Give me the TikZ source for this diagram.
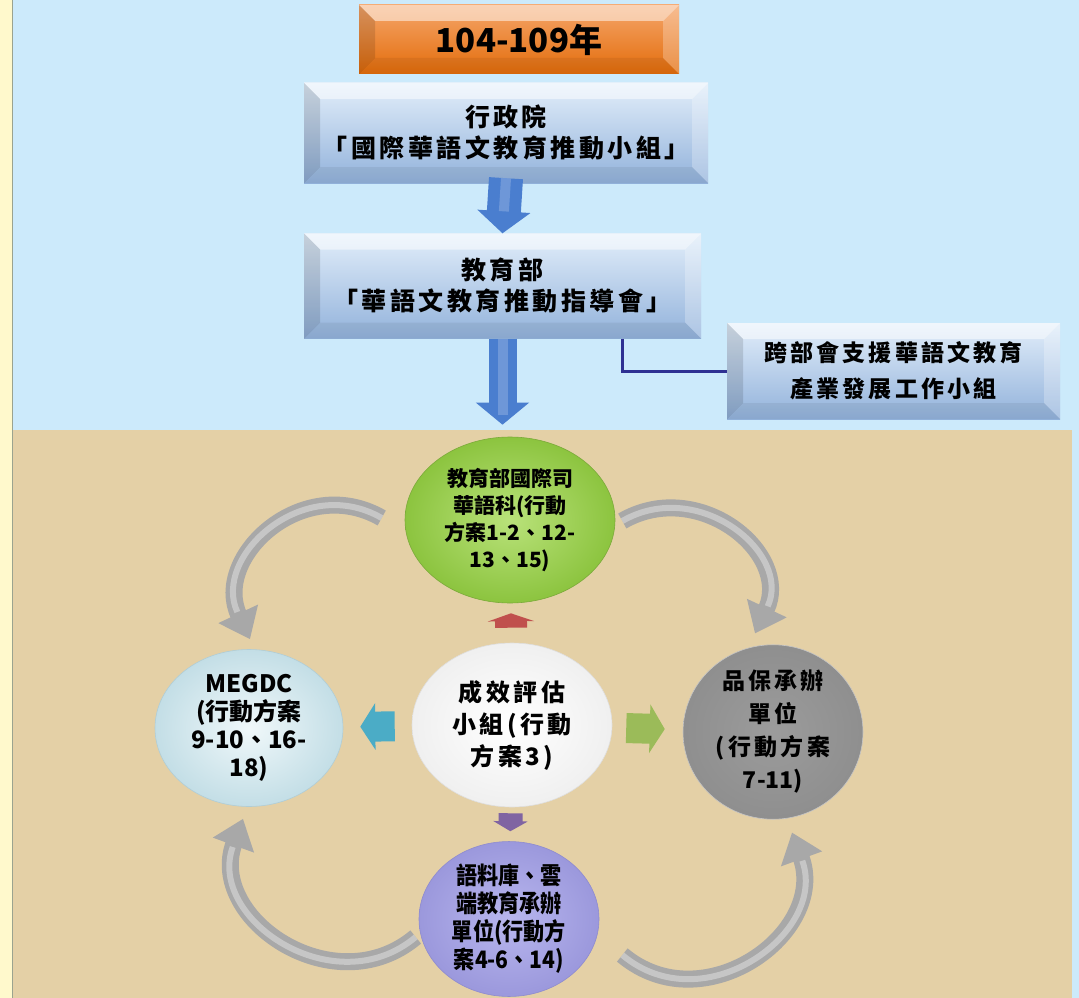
\documentclass[tikz,border=0pt]{standalone}
\usepackage{fontspec}
\usetikzlibrary{shapes.geometric,arrows.meta}

\newfontfamily\cjk{Noto Sans CJK TC}
\newfontfamily\cjkwide{Noto Sans CJK TC}[LetterSpace=14]
\newfontfamily\cjknarrow{Noto Sans CJK TC}[FakeStretch=0.88]

\definecolor{stripback}{HTML}{FFF9CC}
\definecolor{stripline}{HTML}{9AA38F}
\definecolor{skyback}{HTML}{CCEAFB}
\definecolor{sandback}{HTML}{E4D0A6}
\definecolor{boxtop}{HTML}{E2EEFA}
\definecolor{boxbottom}{HTML}{92B2DB}
\definecolor{orangetop}{HTML}{F5A66B}
\definecolor{orangebottom}{HTML}{E36C0A}
\definecolor{shaftblue}{HTML}{4A7ECF}
\definecolor{linknavy}{HTML}{2E3192}
\definecolor{cyclegray}{HTML}{A8A8A8}
\definecolor{tipred}{HTML}{C0504D}
\definecolor{tipaqua}{HTML}{4BACC6}
\definecolor{tipgreen}{HTML}{9BBB59}
\definecolor{tippurple}{HTML}{8064A2}
\definecolor{greeninner}{HTML}{B9E27A}
\definecolor{greenouter}{HTML}{8CC43F}
\definecolor{greenrim}{HTML}{7BAA3A}
\definecolor{paleinner}{HTML}{F0F8FA}
\definecolor{paleouter}{HTML}{C3DEE6}
\definecolor{palerim}{HTML}{B0CDD6}
\definecolor{lilacinner}{HTML}{B8B6EE}
\definecolor{lilacouter}{HTML}{9B98DC}
\definecolor{lilacrim}{HTML}{8E8BCF}

\tikzset{
  bevel/.style={
    path picture={
      \coordinate (nw) at (path picture bounding box.north west);
      \coordinate (ne) at (path picture bounding box.north east);
      \coordinate (sw) at (path picture bounding box.south west);
      \coordinate (se) at (path picture bounding box.south east);
      \fill[white, fill opacity=.5] (nw) -- (ne) -- ([xshift=-16pt,yshift=-16pt]ne) -- ([xshift=16pt,yshift=-16pt]nw) -- cycle;
      \fill[black, fill opacity=.12] (nw) -- ([xshift=16pt,yshift=-16pt]nw) -- ([xshift=16pt,yshift=16pt]sw) -- (sw) -- cycle;
      \fill[white, fill opacity=.25] (ne) -- ([xshift=-16pt,yshift=-16pt]ne) -- ([xshift=-16pt,yshift=16pt]se) -- (se) -- cycle;
      \fill[black, fill opacity=.06] (sw) -- ([xshift=16pt,yshift=16pt]sw) -- ([xshift=-16pt,yshift=16pt]se) -- (se) -- cycle;
    }
  }
}

\begin{document}
\begin{tikzpicture}[
    x=1pt,
    y=-1pt,
    bevelbox/.style={
      rectangle,
      inner sep=0pt,
      align=center,
      top color=boxtop,
      bottom color=boxbottom,
      bevel
    },
    boxtext/.style={font=\cjkwide\bfseries\fontsize{25}{36}\selectfont},
    ball/.style={
      ellipse,
      inner sep=0pt,
      align=center,
      draw=#1,
      line width=0.6pt
    },
    shaft/.style={
      draw=shaftblue,
      line width=34pt,
      -{Triangle[width=52pt,length=22pt]},
      postaction={draw=white, draw opacity=.2, line width=10pt, -, shorten >=22pt}
    },
    stub/.style={line width=30pt},
    roundarrow/.style={
      draw=cyclegray,
      line width=17pt,
      -{Triangle[width=42pt,length=28pt]},
      looseness=1.3,
      postaction={draw=white, draw opacity=.35, line width=6pt, -, shorten >=30pt}
    },
    link/.style={draw=linknavy, line width=3pt}
  ]
    \useasboundingbox (0,0) rectangle (1079,998);
    \fill[stripback] (0,0) rectangle (13,998);
    \fill[skyback] (13,0) rectangle (1079,998);
    \draw[stripline, line width=1.5pt] (12.5,0) -- (12.5,998);
    \fill[sandback] (13,430) rectangle (1072,998);

    \node[bevelbox, top color=orangetop, bottom color=orangebottom,
      minimum width=320, minimum height=69,
      font=\cjk\bfseries\fontsize{33}{40}\selectfont] (years) at (519, 39.5) {104-109年};
    \node[bevelbox, boxtext, minimum width=404, minimum height=100] (yuan) at (506, 133)
      {行政院\\[-5pt]「國際華語文教育推動小組」};
    \node[bevelbox, boxtext, minimum width=397, minimum height=105] (moe) at (502.5, 286)
      {教育部\\[-5pt]「華語文教育推動指導會」};
    \node[bevelbox, minimum width=333, minimum height=96,
      font=\cjkwide\bfseries\fontsize{23}{36}\selectfont] (taskforce) at (893.5, 371)
      {跨部會支援華語文教育\\產業發展工作小組};

    \node[ball=greenrim, minimum width=210, minimum height=166,
      inner color=greeninner, outer color=greenouter,
      font=\cjk\bfseries\fontsize{21}{27}\selectfont] (intl) at (510, 520)
      {教育部國際司\\華語科(行動\\方案1-2、12-\\13、15)};
    \node[ball=gray!25, minimum width=200, minimum height=164,
      inner color=white, outer color=gray!12,
      font=\cjkwide\bfseries\fontsize{24}{32}\selectfont] (mid) at (512, 725)
      {成效評估\\小組(行動\\方案3)};
    \node[ball=palerim, minimum width=188, minimum height=157,
      inner color=paleinner, outer color=paleouter,
      font=\cjk\bfseries\fontsize{24}{28}\selectfont] (megdc) at (249, 728)
      {MEGDC\\(行動方案\\9-10、16-\\18)};
    \node[ball=gray!45, minimum width=180, minimum height=166,
      inner color=gray!78, outer color=gray!88,
      font=\cjkwide\bfseries\fontsize{23}{33}\selectfont] (quality) at (773, 732)
      {品保承辦\\單位\\(行動方案\\{\cjk 7-11)}};
    \node[ball=lilacrim, minimum width=180, minimum height=154,
      inner color=lilacinner, outer color=lilacouter,
      font=\cjknarrow\bfseries\fontsize{24}{28}\selectfont] (corpus) at (509, 919)
      {語料庫、雲\\端教育承辦\\單位(行動方\\案4-6、14)};

    \draw[shaft] ([yshift=5pt]yuan.south) to (moe.north);
    \draw[shaft, line width=28pt, shorten >=12pt] (moe.south) to (moe.south |- intl.north);
    \draw[link] ([xshift=119.5pt]moe.south) |- (taskforce.west);

    \draw[stub, tipred, line width=32pt, -{Triangle[width=46pt,length=8pt]},
      shorten <=15pt, shorten >=10pt] (mid) to (intl);
    \draw[stub, tipaqua, -{Triangle[width=46pt,length=15pt]},
      shorten <=17pt, shorten >=17pt] (mid) to (megdc);
    \draw[stub, tipgreen, -{Triangle[width=48pt,length=15pt]},
      shorten <=14pt, shorten >=18pt] (mid) to (quality);
    \draw[stub, tippurple, line width=24pt, -{Triangle[width=34pt,length=10pt]},
      shorten <=6pt, shorten >=10pt] (mid) to (corpus);

    \draw[roundarrow] ([shift={(-23,-2)}]intl.west) to[out=150, in=115] ([shift={(1,-10)}]megdc.north);
    \draw[roundarrow] ([shift={(7,1)}]intl.east) to[out=30, in=65] ([shift={(-18,-11)}]quality.north);
    \draw[roundarrow] ([shift={(-3,18)}]corpus.west) to[out=-140, in=-110] ([shift={(-6,12)}]megdc.south);
    \draw[roundarrow] ([shift={(23,36)}]corpus.east) to[out=-40, in=-70] ([shift={(19,13)}]quality.south);
  \end{tikzpicture}
\end{document}
